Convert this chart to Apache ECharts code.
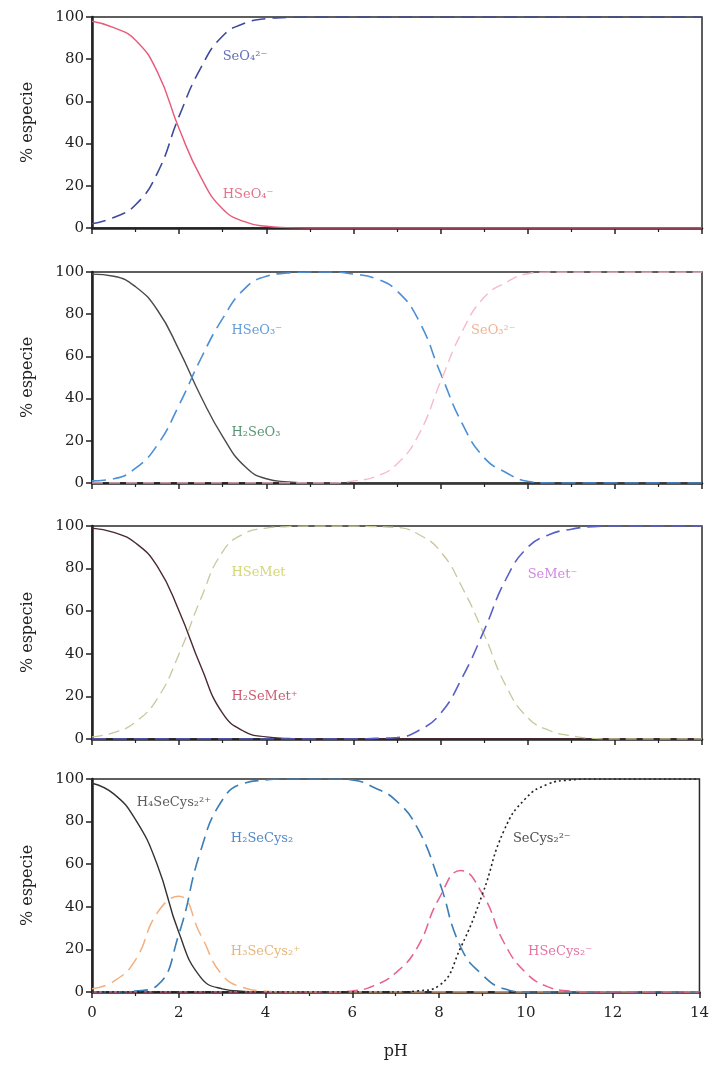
<!DOCTYPE html>
<html><head><meta charset="utf-8">
<script src="https://cdn.jsdelivr.net/npm/echarts@6/dist/echarts.min.js"></script>
<style>html,body{margin:0;padding:0;background:#fff}#c{width:712px;height:1065px}</style>
</head><body><div id="c"></div>
<script>
const pH = [0,0.5,1,1.5,2,2.5,3,3.5,4,4.5,5,5.5,6,6.5,7,7.5,8,8.5,9,9.5,10,10.5,11,11.5,12,12.5,13,13.5,14];
const yTicks = [0,20,40,60,80,100];
const xTicks = [0,2,4,6,8,10,12,14];

// Panel 1: selenate
const HSeO4 = [98,95,89,74,47,24,9,3,0.8,0.2,0,0,0,0,0,0,0,0,0,0,0,0,0,0,0,0,0,0,0];
const SeO4  = [2,5,11,26,53,76,91,97,99.2,99.8,100,100,100,100,100,100,100,100,100,100,100,100,100,100,100,100,100,100,100];

// Panel 2: selenite
const H2SeO3 = [99,98,93,82,63,41,22,8,2,0.5,0,0,0,0,0,0,0,0,0,0,0,0,0,0,0,0,0,0,0];
const HSeO3  = [1,2,7,18,37,59,78,92,98,99.5,100,100,99,97,91,77,52,28,12,5,0.8,0,0,0,0,0,0,0,0];
const SeO3   = [0,0,0,0,0,0,0,0,0,0,0,0,1,3,9,23,48,72,88,95,99.2,100,100,100,100,100,100,100,100];

// Panel 3: selenomethionine
const H2SeMet = [99,97,92,81,60,34,12,3.5,1,0.3,0,0,0,0,0,0,0,0,0,0,0,0,0,0,0,0,0,0,0];
const HSeMet  = [1,3,8,19,40,66,88,96.5,99,99.7,100,100,100,99.7,99.3,96,88,71,49,25,10,4,1.5,0.3,0,0,0,0,0];
const SeMet   = [0,0,0,0,0,0,0,0,0,0,0,0,0,0.3,0.7,4,12,29,51,75,90,96,98.5,99.7,100,100,100,100,100];

// Panel 4: selenocystine
const H4SeCys2 = [98,93,81,60,28,7,1.5,0.3,0,0,0,0,0,0,0,0,0,0,0,0,0,0,0,0,0,0,0,0,0];
const H3SeCys2 = [1.5,5,15,37,45,27,8,2,0.4,0,0,0,0,0,0,0,0,0,0,0,0,0,0,0,0,0,0,0,0];
const H2SeCys2 = [0,0,0.5,3,27,66,90,98,99.5,100,100,100,99.5,96,90,77,52,21,8,1.5,0,0,0,0,0,0,0,0,0];
const HSeCys2  = [0,0,0,0,0,0,0,0,0,0,0,0,0.5,3,9,21,44,57,46,23,9,2.5,0.5,0,0,0,0,0,0];
const SeCys2   = [0,0,0,0,0,0,0,0,0,0,0,0,0,0,0,0.5,3,21,46,76,91,97.5,99.5,100,100,100,100,100,100];

// species labels: text, left-edge pH, centre %
const labels1 = [["SeO₄²⁻",3.0,81],["HSeO₄⁻",3.0,16]];
const labels2 = [["HSeO₃⁻",3.2,72],["H₂SeO₃",3.2,24],["SeO₃²⁻",8.7,72]];
const labels3 = [["HSeMet",3.2,78],["H₂SeMet⁺",3.2,20],["SeMet⁻",10.0,77]];
const labels4 = [["H₄SeCys₂²⁺",1.03,89],["H₂SeCys₂",3.2,72],["H₃SeCys₂⁺",3.2,19],["SeCys₂²⁻",9.7,72],["HSeCys₂⁻",10.05,19]];

const FONT = "DejaVu Serif";
const grids = [
  {left:92,right:10,top:17,height:211},
  {left:92,right:10,top:272,height:211},
  {left:92,right:10,top:526,height:213},
  {left:92,right:10,top:779,height:213}
];
const xAxes = [], yAxes = [];
grids.forEach((g,i)=>{
  g.show = true; g.borderColor = '#2a2a2a'; g.borderWidth = 1.5; g.containLabel = false;
  const last = i === 3;
  xAxes.push({gridIndex:i,type:'value',min:0,max:14,interval:2,
    axisLine:{onZero:false,lineStyle:{color:'#222',width:2.5}},
    axisTick:{show:true,length:6,lineStyle:{color:'#222',width:1.5}},
    minorTick:{show:true,splitNumber:2,length:4,lineStyle:{color:'#222',width:1.2}},
    splitLine:{show:false},
    axisLabel:{show:last,fontFamily:FONT,fontSize:15,color:'#222',margin:14,
      formatter:v=>xTicks.includes(v)?String(v):''},
    name:last?'pH':'',nameLocation:'middle',nameGap:52,
    nameTextStyle:{fontFamily:FONT,fontSize:16,color:'#222'}});
  yAxes.push({gridIndex:i,type:'value',min:0,max:100,interval:20,
    axisLine:{show:true,onZero:false,lineStyle:{color:'#222',width:2.5}},
    axisTick:{show:true,length:6,lineStyle:{color:'#222',width:1.5}},
    splitLine:{show:false},
    axisLabel:{fontFamily:FONT,fontSize:15,color:'#222',margin:8,
      formatter:v=>yTicks.includes(v)?String(v):''},
    name:'% especie',nameLocation:'middle',nameGap:56,nameRotate:90,
    nameTextStyle:{fontFamily:FONT,fontSize:16,color:'#222'}});
});

function line(i,vals,color,type,width){
  return {type:'line',xAxisIndex:i,yAxisIndex:i,data:pH.map((x,k)=>[x,vals[k]]),
    smooth:0.5,symbol:'none',silent:true,z:3,
    lineStyle:{color:color,width:width||1.5,type:type}};
}
function labs(i,arr,colors){
  return {type:'scatter',xAxisIndex:i,yAxisIndex:i,symbolSize:0,silent:true,z:5,
    data:arr.map((a,k)=>({value:[a[1],a[2]],label:{color:colors[k]},name:a[0]})),
    label:{show:true,position:'right',distance:0,fontFamily:FONT,fontSize:13,
      formatter:p=>p.name}};
}
const D = [14,7], D2 = [11,6], DOT = [2,3];
const series = [
  line(0,HSeO4,'#e85a78','solid',1.4),
  line(0,SeO4,'#3d4a9e',D,1.6),
  labs(0,labels1,['#3d4aa8','#e0506e']),
  line(1,H2SeO3,'#4a4a4a','solid',1.4),
  line(1,HSeO3,'#4b8fd6',D,1.6),
  line(1,SeO3,'#f5bcc8',D2,1.4),
  labs(1,labels2,['#3d84d0','#2e7a50','#e8a27a']),
  line(2,H2SeMet,'#4a2a30','solid',1.4),
  line(2,HSeMet,'#c8c79a',D2,1.3),
  line(2,SeMet,'#5860c8',D,1.6),
  labs(2,labels3,['#c9cc55','#c2304c','#c46ad8']),
  line(3,H4SeCys2,'#333333','solid',1.4),
  line(3,H3SeCys2,'#f3b07e',D,1.5),
  line(3,H2SeCys2,'#3b7db5',D,1.6),
  line(3,HSeCys2,'#e8608e',D2,1.5),
  line(3,SeCys2,'#222222',DOT,1.6),
  labs(3,labels4,['#333333','#2a6ab4','#e2a458','#222222','#e05088'])
];
const chart = echarts.init(document.getElementById('c'),null,{renderer:'canvas'});
chart.setOption({animation:false,backgroundColor:'#fff',grid:grids,xAxis:xAxes,yAxis:yAxes,series:series});
</script></body></html>
